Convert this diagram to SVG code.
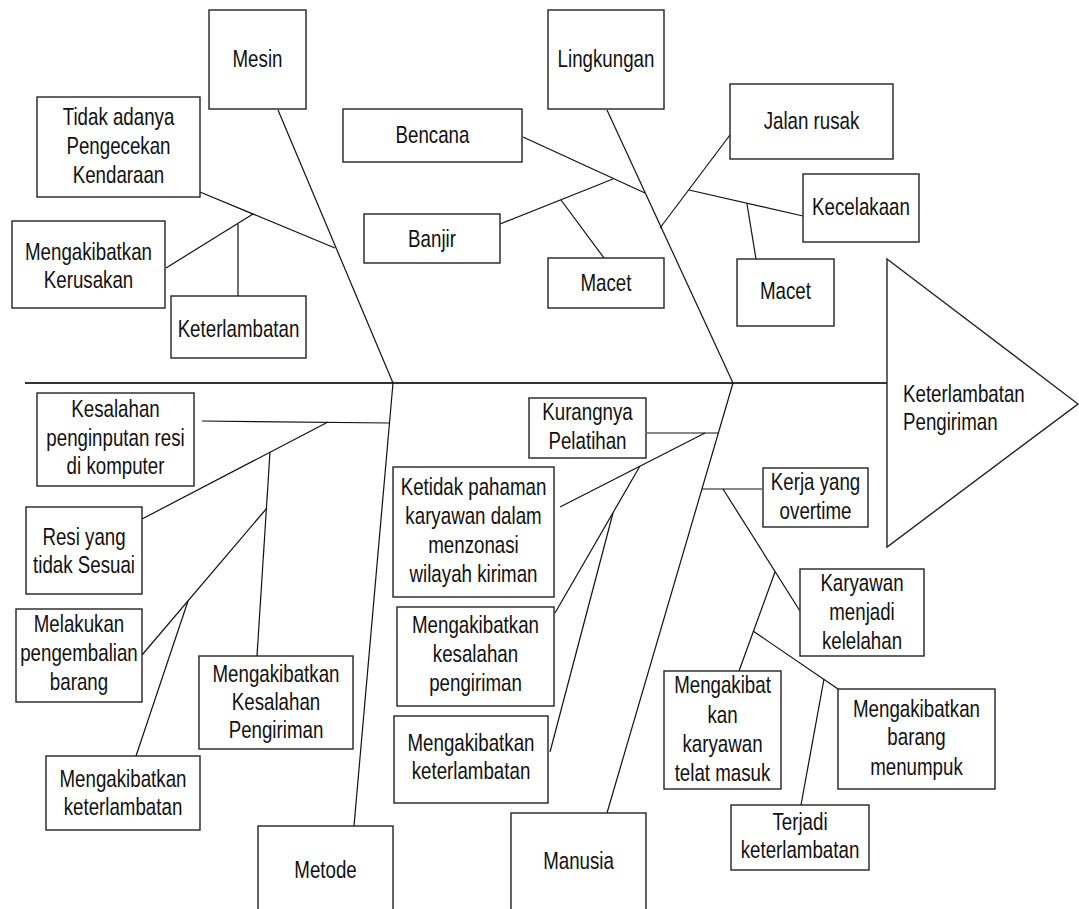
<svg xmlns="http://www.w3.org/2000/svg" width="1079" height="909" viewBox="0 0 1079 909">
<style>
rect.b{fill:#fff;stroke:#222;stroke-width:1.4}
polygon.h{fill:#fff;stroke:#222;stroke-width:1.4}
text{font-family:"Liberation Sans",Arial,sans-serif;font-size:24px;fill:#111;text-anchor:middle}
text.l{text-anchor:start}
#connectors line{stroke:#111;stroke-width:1.2;fill:none}
#connectors line.spine{stroke:#333;stroke-width:2}
</style>
<rect x="0" y="0" width="1079" height="909" fill="#fff"/>
<g id="connectors">
<line class="spine" x1="25" y1="383" x2="887" y2="383"/>
<line x1="278" y1="110" x2="393" y2="383"/>
<line x1="393" y1="383" x2="354" y2="826"/>
<line x1="607" y1="110" x2="733" y2="383"/>
<line x1="733" y1="383" x2="607" y2="813"/>
<line x1="200" y1="192" x2="335" y2="248"/>
<line x1="166" y1="268" x2="253" y2="214"/>
<line x1="238" y1="224" x2="238" y2="296"/>
<line x1="523" y1="137" x2="645" y2="193"/>
<line x1="500" y1="224" x2="613" y2="179"/>
<line x1="561" y1="200" x2="604" y2="258"/>
<line x1="660" y1="228" x2="730" y2="135"/>
<line x1="689" y1="190" x2="803" y2="216"/>
<line x1="747" y1="204" x2="756" y2="259"/>
<line x1="202" y1="421" x2="390" y2="423"/>
<line x1="142" y1="519" x2="328" y2="422"/>
<line x1="270" y1="452" x2="257" y2="656"/>
<line x1="142" y1="655" x2="267" y2="508"/>
<line x1="188" y1="601" x2="136" y2="756"/>
<line x1="647" y1="433" x2="718" y2="433"/>
<line x1="560" y1="507" x2="705" y2="433"/>
<line x1="640" y1="466" x2="555" y2="613"/>
<line x1="613" y1="513" x2="550" y2="752"/>
<line x1="702" y1="489" x2="762" y2="489"/>
<line x1="723" y1="489" x2="800" y2="611"/>
<line x1="775" y1="572" x2="739" y2="671"/>
<line x1="753" y1="631" x2="838" y2="689"/>
<line x1="824" y1="679" x2="801" y2="805"/>
</g>
<g id="mesin"><rect class="b" x="209" y="10" width="97" height="99"/><g transform="matrix(0.78 0 0 1 257.5 0)"><text x="0" y="67">Mesin</text></g></g>
<g id="tidak-adanya"><rect class="b" x="37" y="97" width="163" height="100"/><g transform="matrix(0.78 0 0 1 118.5 0)"><text x="0" y="125">Tidak adanya</text><text x="0" y="154">Pengecekan</text><text x="0" y="183">Kendaraan</text></g></g>
<g id="mengakibatkan-kerusakan"><rect class="b" x="12" y="221" width="153" height="87"/><g transform="matrix(0.78 0 0 1 88.5 0)"><text x="0" y="260">Mengakibatkan</text><text x="0" y="288">Kerusakan</text></g></g>
<g id="keterlambatan-mesin"><rect class="b" x="171" y="296" width="135" height="62"/><g transform="matrix(0.78 0 0 1 238.5 0)"><text x="0" y="337">Keterlambatan</text></g></g>
<g id="lingkungan"><rect class="b" x="548" y="10" width="116" height="99"/><g transform="matrix(0.78 0 0 1 606 0)"><text x="0" y="67">Lingkungan</text></g></g>
<g id="bencana"><rect class="b" x="343" y="109" width="179" height="53"/><g transform="matrix(0.78 0 0 1 432.5 0)"><text x="0" y="143">Bencana</text></g></g>
<g id="banjir"><rect class="b" x="364" y="214" width="136" height="49"/><g transform="matrix(0.78 0 0 1 432 0)"><text x="0" y="247">Banjir</text></g></g>
<g id="macet-1"><rect class="b" x="548" y="258" width="116" height="50"/><g transform="matrix(0.78 0 0 1 606 0)"><text x="0" y="291">Macet</text></g></g>
<g id="jalan-rusak"><rect class="b" x="730" y="84" width="163" height="75"/><g transform="matrix(0.78 0 0 1 811.5 0)"><text x="0" y="129">Jalan rusak</text></g></g>
<g id="kecelakaan"><rect class="b" x="803" y="174" width="116" height="68"/><g transform="matrix(0.78 0 0 1 861 0)"><text x="0" y="215">Kecelakaan</text></g></g>
<g id="macet-2"><rect class="b" x="737" y="259" width="97" height="67"/><g transform="matrix(0.78 0 0 1 785.5 0)"><text x="0" y="299">Macet</text></g></g>
<g id="head"><polygon class="h" points="887,259 1078,404 887,547"/><g transform="matrix(0.78 0 0 1 903 0)"><text class="l" x="0" y="402">Keterlambatan</text><text class="l" x="0" y="430">Pengiriman</text></g></g>
<g id="kesalahan-penginputan"><rect class="b" x="37" y="393" width="157" height="93"/><g transform="matrix(0.78 0 0 1 115.5 0)"><text x="0" y="417">Kesalahan</text><text x="0" y="446">penginputan resi</text><text x="0" y="474">di komputer</text></g></g>
<g id="resi"><rect class="b" x="26" y="507" width="116" height="87"/><g transform="matrix(0.78 0 0 1 84 0)"><text x="0" y="545">Resi yang</text><text x="0" y="573">tidak Sesuai</text></g></g>
<g id="melakukan"><rect class="b" x="16" y="609" width="126" height="93"/><g transform="matrix(0.78 0 0 1 79 0)"><text x="0" y="632">Melakukan</text><text x="0" y="661">pengembalian</text><text x="0" y="690">barang</text></g></g>
<g id="mengakibatkan-kesalahan-pengiriman"><rect class="b" x="199" y="656" width="154" height="93"/><g transform="matrix(0.78 0 0 1 276 0)"><text x="0" y="682">Mengakibatkan</text><text x="0" y="710">Kesalahan</text><text x="0" y="738">Pengiriman</text></g></g>
<g id="mengakibatkan-keterlambatan-metode"><rect class="b" x="46" y="756" width="154" height="74"/><g transform="matrix(0.78 0 0 1 123 0)"><text x="0" y="787">Mengakibatkan</text><text x="0" y="815">keterlambatan</text></g></g>
<g id="metode"><rect class="b" x="258" y="826" width="135" height="100"/><g transform="matrix(0.78 0 0 1 325.5 0)"><text x="0" y="878">Metode</text></g></g>
<g id="kurangnya"><rect class="b" x="529" y="398" width="117" height="60"/><g transform="matrix(0.78 0 0 1 587.5 0)"><text x="0" y="420">Kurangnya</text><text x="0" y="449">Pelatihan</text></g></g>
<g id="ketidak"><rect class="b" x="393" y="467" width="161" height="130"/><g transform="matrix(0.78 0 0 1 473.5 0)"><text x="0" y="495">Ketidak pahaman</text><text x="0" y="524">karyawan dalam</text><text x="0" y="553">menzonasi</text><text x="0" y="582">wilayah kiriman</text></g></g>
<g id="mengakibatkan-kesalahan-manusia"><rect class="b" x="397" y="607" width="157" height="99"/><g transform="matrix(0.78 0 0 1 475.5 0)"><text x="0" y="633">Mengakibatkan</text><text x="0" y="662">kesalahan</text><text x="0" y="691">pengiriman</text></g></g>
<g id="mengakibatkan-keterlambatan-manusia"><rect class="b" x="394" y="716" width="154" height="87"/><g transform="matrix(0.78 0 0 1 471 0)"><text x="0" y="751">Mengakibatkan</text><text x="0" y="779">keterlambatan</text></g></g>
<g id="manusia"><rect class="b" x="511" y="813" width="135" height="100"/><g transform="matrix(0.78 0 0 1 578.5 0)"><text x="0" y="869">Manusia</text></g></g>
<g id="kerja-overtime"><rect class="b" x="763" y="468" width="105" height="59"/><g transform="matrix(0.78 0 0 1 815.5 0)"><text x="0" y="490">Kerja yang</text><text x="0" y="519">overtime</text></g></g>
<g id="karyawan-kelelahan"><rect class="b" x="800" y="569" width="124" height="87"/><g transform="matrix(0.78 0 0 1 862 0)"><text x="0" y="591">Karyawan</text><text x="0" y="620">menjadi</text><text x="0" y="649">kelelahan</text></g></g>
<g id="telat-masuk"><rect class="b" x="664" y="671" width="117" height="118"/><g transform="matrix(0.78 0 0 1 722.5 0)"><text x="0" y="693">Mengakibat</text><text x="0" y="723">kan</text><text x="0" y="752">karyawan</text><text x="0" y="781">telat masuk</text></g></g>
<g id="barang-menumpuk"><rect class="b" x="838" y="689" width="157" height="100"/><g transform="matrix(0.78 0 0 1 916.5 0)"><text x="0" y="717">Mengakibatkan</text><text x="0" y="745">barang</text><text x="0" y="775">menumpuk</text></g></g>
<g id="terjadi-keterlambatan"><rect class="b" x="731" y="805" width="138" height="65"/><g transform="matrix(0.78 0 0 1 800 0)"><text x="0" y="830">Terjadi</text><text x="0" y="858">keterlambatan</text></g></g>
</svg>
